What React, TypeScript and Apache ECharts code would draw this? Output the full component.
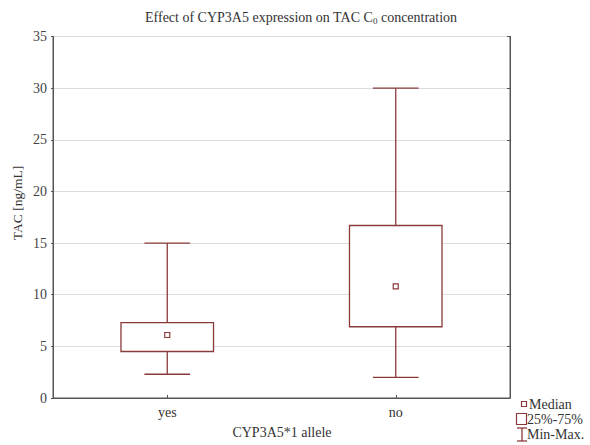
import React, { useEffect, useRef } from "react";
import * as echarts from "echarts";

// CYP3A5*1 allele carriers vs non-carriers
const categories = ["yes", "no"];
const minVals = [2.3, 2.0];
const q1Vals = [4.5, 6.9];
const medianVals = [6.1, 10.8];
const q3Vals = [7.3, 16.7];
const maxVals = [15.0, 30.0];

const yTicks = { min: 0, max: 35, interval: 5 };

const BOX_COLOR = "#8a3a3a";
const AXIS_COLOR = "#555";
const TEXT_COLOR = "#333";
const FONT = "'Liberation Serif', 'Times New Roman', serif";

export default function App() {
  const ref = useRef<HTMLDivElement>(null);

  useEffect(() => {
    if (!ref.current) return;
    const chart = echarts.init(ref.current, null, { renderer: "svg" });

    const data = categories.map((_, i) => [
      i,
      minVals[i],
      q1Vals[i],
      medianVals[i],
      q3Vals[i],
      maxVals[i],
    ]);

    const renderItem = (params: any, api: any) => {
      const idx = api.value(0);
      const pMin = api.coord([idx, api.value(1)]);
      const pQ1 = api.coord([idx, api.value(2)]);
      const pMed = api.coord([idx, api.value(3)]);
      const pQ3 = api.coord([idx, api.value(4)]);
      const pMax = api.coord([idx, api.value(5)]);
      const band = api.size([1, 0])[0];
      const bw = band * 0.405;
      const cap = band * 0.2;
      const cx = pMed[0];
      const lineStyle = { stroke: BOX_COLOR, lineWidth: 1.3, fill: null };
      return {
        type: "group",
        children: [
          { type: "line", shape: { x1: cx, y1: pMax[1], x2: cx, y2: pQ3[1] }, style: lineStyle },
          { type: "line", shape: { x1: cx, y1: pQ1[1], x2: cx, y2: pMin[1] }, style: lineStyle },
          { type: "line", shape: { x1: cx - cap / 2, y1: pMax[1], x2: cx + cap / 2, y2: pMax[1] }, style: lineStyle },
          { type: "line", shape: { x1: cx - cap / 2, y1: pMin[1], x2: cx + cap / 2, y2: pMin[1] }, style: lineStyle },
          {
            type: "rect",
            shape: { x: cx - bw / 2, y: pQ3[1], width: bw, height: pQ1[1] - pQ3[1] },
            style: { stroke: BOX_COLOR, lineWidth: 1.3, fill: "#fff" },
          },
          {
            type: "rect",
            shape: { x: cx - 2.5, y: pMed[1] - 2.5, width: 5, height: 5 },
            style: { stroke: BOX_COLOR, lineWidth: 1.2, fill: "#fff" },
          },
        ],
      };
    };

    const legendText = { fill: TEXT_COLOR, fontFamily: FONT, fontSize: 14, textVerticalAlign: "middle" };

    chart.setOption({
      animation: false,
      backgroundColor: "#fff",
      grid: {
        left: 53,
        top: 36.5,
        right: 80,
        bottom: 47,
        show: true,
        borderColor: AXIS_COLOR,
        borderWidth: 1,
      },
      xAxis: {
        type: "category",
        data: categories,
        boundaryGap: true,
        axisLine: { lineStyle: { color: AXIS_COLOR } },
        axisTick: { show: true, inside: true, length: 3, alignWithLabel: true, interval: 0, lineStyle: { color: AXIS_COLOR } },
        axisLabel: { color: TEXT_COLOR, fontFamily: FONT, fontSize: 14, margin: 7 },
        splitLine: { show: false },
      },
      yAxis: [
        {
          type: "value",
          min: yTicks.min,
          max: yTicks.max,
          interval: yTicks.interval,
          axisLine: { show: true, lineStyle: { color: AXIS_COLOR } },
          axisTick: { show: true, length: 2, lineStyle: { color: AXIS_COLOR } },
          axisLabel: { color: "#444", fontFamily: FONT, fontSize: 14, margin: 6 },
          splitLine: { show: true, lineStyle: { color: "#dcdcdc", width: 1 } },
        },
        {
          type: "value",
          position: "right",
          min: yTicks.min,
          max: yTicks.max,
          interval: yTicks.interval,
          axisLine: { show: true, lineStyle: { color: AXIS_COLOR } },
          axisTick: { show: true, inside: true, length: 3, lineStyle: { color: AXIS_COLOR } },
          axisLabel: { show: false },
          splitLine: { show: false },
        },
      ],
      series: [
        {
          type: "custom",
          renderItem,
          data,
          encode: { x: 0, y: [1, 2, 3, 4, 5] },
          clip: false,
        },
      ],
      graphic: [
        {
          type: "text",
          x: 301,
          y: 17,
          style: {
            text: "{a|Effect of CYP3A5 expression on TAC C}{s|0}{a| concentration}",
            textAlign: "center",
            textVerticalAlign: "middle",
            rich: {
              a: { fontFamily: FONT, fontSize: 14, fill: TEXT_COLOR },
              s: { fontFamily: FONT, fontSize: 9, fill: TEXT_COLOR, padding: [7, 0, 0, 0] },
            },
          },
        },
        {
          type: "text",
          x: 17,
          y: 203,
          rotation: Math.PI / 2,
          style: {
            text: "TAC [ng/mL]",
            fill: TEXT_COLOR,
            fontFamily: FONT,
            fontSize: 13.5,
            textAlign: "center",
            textVerticalAlign: "middle",
          },
        },
        {
          type: "text",
          x: 282,
          y: 432,
          style: {
            text: "CYP3A5*1 allele",
            fill: TEXT_COLOR,
            fontFamily: FONT,
            fontSize: 14,
            textAlign: "center",
            textVerticalAlign: "middle",
          },
        },
        // legend: median marker
        {
          type: "rect",
          shape: { x: 521.5, y: 401.5, width: 5, height: 5 },
          style: { stroke: BOX_COLOR, lineWidth: 1.2, fill: "#fff" },
        },
        { type: "text", x: 529, y: 404, style: { text: "Median", ...legendText } },
        // legend: interquartile box
        {
          type: "rect",
          shape: { x: 516.5, y: 413.5, width: 10, height: 11 },
          style: { stroke: BOX_COLOR, lineWidth: 1.2, fill: "#fff" },
        },
        { type: "text", x: 527, y: 419, style: { text: "25%-75%", ...legendText } },
        // legend: min-max whisker
        { type: "line", shape: { x1: 517, y1: 428, x2: 527, y2: 428 }, style: { stroke: BOX_COLOR, lineWidth: 1.3 } },
        { type: "line", shape: { x1: 522, y1: 428, x2: 522, y2: 441 }, style: { stroke: BOX_COLOR, lineWidth: 1.3 } },
        { type: "line", shape: { x1: 517, y1: 441, x2: 527, y2: 441 }, style: { stroke: BOX_COLOR, lineWidth: 1.3 } },
        { type: "text", x: 527, y: 434, style: { text: "Min-Max.", ...legendText } },
      ],
    });

    return () => chart.dispose();
  }, []);

  return (
    <div
      ref={ref}
      style={{ position: "fixed", left: 0, top: 0, width: 590, height: 445 }}
    />
  );
}
